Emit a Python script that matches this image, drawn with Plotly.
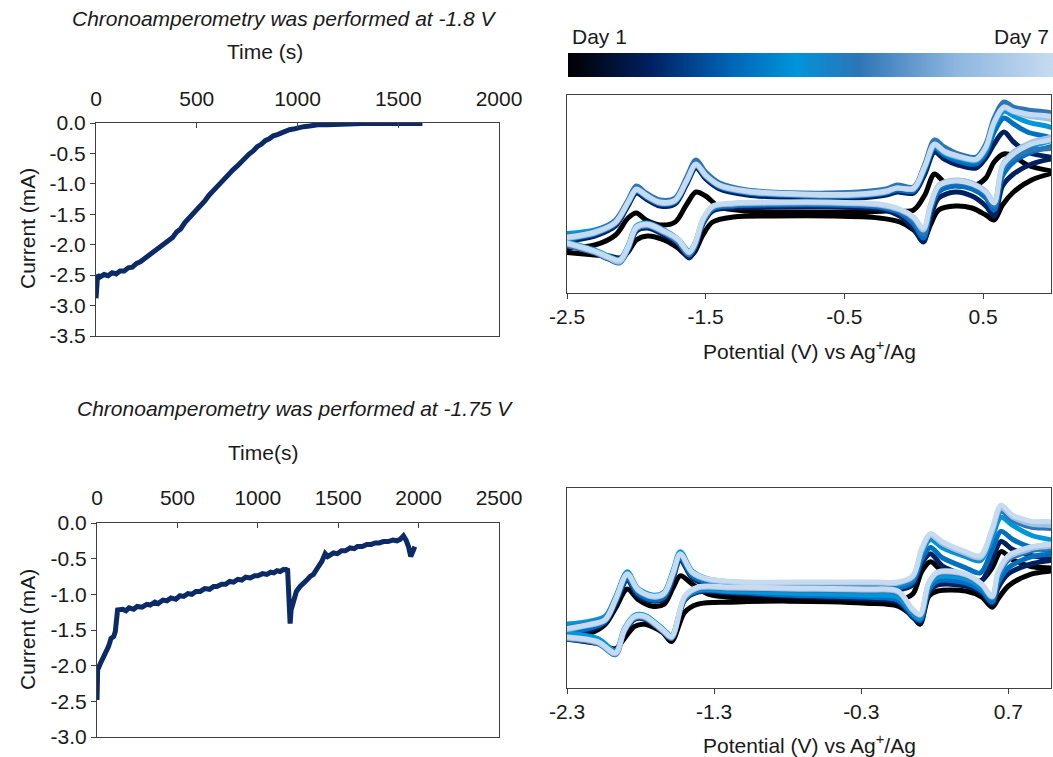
import plotly.graph_objects as go

W, H = 1053, 757
FONT = "Liberation Sans, Arial, sans-serif"
FS = 21
TXT = "#1a1a1a"
AXC = "#404040"
CA_COLOR = "#0B2A66"

# ---------------- chronoamperometry, -1.8 V ----------------
CA1_TIME = [0, 3, 8, 20, 40, 60, 80, 100, 120, 140, 160, 180, 200, 220, 240, 260, 280, 300,
            320, 340, 360, 380, 400, 420, 440, 460, 480, 500, 520, 540, 560, 580, 600, 620,
            640, 660, 680, 700, 720, 740, 760, 780, 800, 820, 840, 860, 880, 900, 920, 940,
            960, 980, 1000, 1030, 1060, 1100, 1150, 1200, 1260, 1320, 1400, 1480, 1560, 1620]
CA1_CURRENT = [-2.88, -2.58, -2.50, -2.53, -2.49, -2.51, -2.46, -2.48, -2.43, -2.43, -2.38, -2.37,
               -2.31, -2.28, -2.23, -2.19, -2.14, -2.10, -2.05, -1.99, -1.93, -1.88, -1.79, -1.74,
               -1.64, -1.57, -1.49, -1.43, -1.35, -1.28, -1.19, -1.13, -1.05, -0.98, -0.90, -0.84,
               -0.77, -0.71, -0.64, -0.58, -0.51, -0.46, -0.39, -0.35, -0.29, -0.26, -0.21, -0.19,
               -0.16, -0.13, -0.11, -0.10, -0.08, -0.06, -0.05, -0.03, -0.03, -0.02, -0.01, -0.01,
               -0.01, -0.01, -0.01, -0.01]

# ---------------- chronoamperometry, -1.75 V ----------------
CA2_TIME = [0, 4, 21, 41, 60, 72, 87, 104, 114, 120, 128, 160, 180, 200, 228, 250, 280, 310,
            331, 360, 380, 410, 435, 460, 490, 515, 539, 565, 590, 615, 642, 670, 700, 725,
            746, 775, 800, 825, 849, 875, 900, 925, 953, 980, 1000, 1030, 1056, 1080, 1100,
            1120, 1139, 1160, 1176, 1185, 1193, 1201, 1207, 1222, 1240, 1263, 1285, 1305, 1325,
            1346, 1377, 1398, 1419, 1435, 1450, 1471, 1495, 1520, 1545, 1574, 1600, 1620, 1650,
            1678, 1705, 1730, 1755, 1781, 1810, 1840, 1865, 1885, 1906, 1922, 1937, 1951, 1968,
            1976]
CA2_CURRENT = [-2.48, -2.06, -1.97, -1.88, -1.82, -1.73, -1.62, -1.59, -1.52, -1.27, -1.22,
               -1.21, -1.23, -1.19, -1.21, -1.17, -1.18, -1.14, -1.15, -1.11, -1.13, -1.08, -1.09,
               -1.05, -1.07, -1.02, -1.03, -0.99, -1.00, -0.96, -0.96, -0.92, -0.93, -0.89, -0.89,
               -0.86, -0.86, -0.82, -0.83, -0.79, -0.80, -0.76, -0.77, -0.74, -0.74, -0.71, -0.72,
               -0.69, -0.70, -0.67, -0.68, -0.65, -0.66, -0.64,
               -1.03, -1.41, -1.22, -1.08, -0.96, -0.89, -0.83, -0.80, -0.75, -0.72, -0.61, -0.54,
               -0.43, -0.47, -0.45, -0.42, -0.43, -0.39, -0.39, -0.35, -0.36, -0.33, -0.33, -0.30,
               -0.30, -0.28, -0.28, -0.26, -0.26, -0.24, -0.25, -0.23, -0.18, -0.24, -0.33, -0.47,
               -0.38, -0.33]

CA1_TICKS_X = [0, 500, 1000, 1500, 2000]
CA1_TICKS_Y = [0.0, -0.5, -1.0, -1.5, -2.0, -2.5, -3.0, -3.5]
CA1_LABELS_Y = ["0.0", "-0.5", "-1.0", "-1.5", "-2.0", "-2.5", "-3.0", "-3.5"]
CA2_TICKS_X = [0, 500, 1000, 1500, 2000, 2500]
CA2_TICKS_Y = [0.0, -0.5, -1.0, -1.5, -2.0, -2.5, -3.0]
CA2_LABELS_Y = ["0.0", "-0.5", "-1.0", "-1.5", "-2.0", "-2.5", "-3.0"]

# ---------------- cyclic voltammograms, days 1-7 ----------------
DAYS = ["Day 1", "Day 2", "Day 3", "Day 4", "Day 5", "Day 6", "Day 7"]
DAY_COLORS = ["#000000", "#002060", "#0070C0", "#0096DA", "#2E75B6", "#9DC3E6", "#C6DBF0"]

# upper CV (after -1.8 V electrolysis): forward / reverse sweeps, current in a.u.
CVA_E_FWD = [-2.55, -2.30, -2.15, -2.06, -2.00, -1.93, -1.83, -1.72, -1.64, -1.57, -1.50, -1.40,
             -1.20, -0.80, -0.40, -0.20, -0.12, 0.00, 0.08, 0.15, 0.22, 0.32, 0.45, 0.52, 0.58,
             0.65, 0.72, 0.82, 1.03]
CVA_E_REV = [1.03, 0.85, 0.72, 0.64, 0.58, 0.52, 0.42, 0.30, 0.18, 0.12, 0.07, 0.00, -0.10, -0.25,
             -0.60, -1.00, -1.30, -1.45, -1.52, -1.58, -1.62, -1.70, -1.80, -1.92, -2.00, -2.06,
             -2.12, -2.20, -2.30, -2.55]
CVA_FWD_D1 = [-54, -51, -41, -24, -19, -26, -31, -28, -11, 2, -2, -13, -17, -18, -18, -17, -17, -16, -1, 20, 12, 8, 9, 16, 32, 40, 38, 29, 22]
CVA_REV_D1 = [22, 14, 2, -11, -26, -21, -14, -12, -16, -31, -46, -36, -28, -24, -22, -22, -23, -28, -41, -58, -63, -54, -46, -42, -46, -58, -64, -62, -61, -58]
CVA_FWD_D2 = [-48, -42, -32, -12, 1, -5, -12, -10, 9, 26, 15, 5, -1, -4, -4, -1, 2, 1, 20, 42, 35, 29, 26, 36, 50, 62, 52, 42, 36]
CVA_REV_D2 = [36, 30, 20, 8, -22, -12, -2, 2, -4, -24, -48, -35, -22, -15, -13, -13, -14, -17, -30, -56, -64, -50, -41, -34, -37, -57, -68, -65, -59, -50]
CVA_FWD_D3 = [-46, -40, -30, -10, 3, -3, -10, -8, 11, 28, 17, 7, 1, -2, -2, 1, 4, 3, 24, 46, 39, 33, 30, 41, 62, 76, 70, 62, 54]
CVA_REV_D3 = [50, 42, 32, 18, -16, -4, 5, 8, 2, -17, -44, -30, -19, -13, -11, -11, -12, -15, -28, -53, -61, -48, -39, -32, -35, -55, -67, -64, -58, -49]
CVA_FWD_D4 = [-40, -36, -27, -8, 5, -1, -7, -6, 13, 30, 19, 9, 3, 0, 0, 3, 6, 5, 26, 48, 41, 36, 33, 44, 68, 83, 78, 72, 64]
CVA_REV_D4 = [56, 48, 38, 24, -12, 2, 11, 13, 6, -14, -40, -26, -16, -11, -9, -9, -10, -13, -26, -50, -57, -45, -36, -29, -32, -52, -65, -62, -56, -46]
CVA_FWD_D5 = [-43, -37, -26, -6, 8, 1, -6, -4, 16, 34, 22, 11, 4, 1, 2, 5, 9, 7, 30, 54, 47, 40, 37, 50, 76, 92, 87, 84, 78]
CVA_REV_D5 = [48, 44, 36, 25, -12, 0, 9, 12, 6, -14, -40, -27, -17, -12, -10, -10, -11, -14, -28, -53, -61, -48, -39, -32, -35, -55, -69, -65, -59, -50]
CVA_FWD_D6 = [-45, -39, -29, -9, 4, -2, -9, -7, 12, 29, 18, 8, 2, -1, -1, 2, 6, 5, 27, 49, 42, 37, 34, 46, 71, 86, 82, 78, 72]
CVA_REV_D6 = [60, 52, 42, 29, -8, 3, 11, 14, 9, -11, -36, -24, -16, -11, -9, -9, -10, -13, -26, -51, -59, -46, -38, -31, -34, -54, -68, -64, -58, -48]
CVA_FWD_D7 = [-44, -38, -28, -8, 5, -1, -8, -6, 13, 30, 19, 9, 3, 0, 0, 3, 6, 6, 28, 50, 43, 38, 35, 47, 72, 87, 83, 80, 75]
CVA_REV_D7 = [57, 50, 40, 28, -9, 2, 10, 13, 8, -12, -34, -23, -15, -10, -8, -8, -9, -12, -25, -50, -58, -45, -37, -30, -33, -53, -66, -63, -57, -47]

# lower CV (after -1.75 V electrolysis)
CVB_E_FWD = [-2.34, -2.15, -2.04, -1.97, -1.89, -1.82, -1.72, -1.64, -1.58, -1.53, -1.45, -1.34,
             -1.07, -0.60, -0.20, -0.05, 0.05, 0.11, 0.17, 0.25, 0.41, 0.51, 0.59, 0.65, 0.73,
             0.86, 1.03]
CVB_E_REV = [1.03, 0.86, 0.70, 0.63, 0.59, 0.52, 0.41, 0.22, 0.16, 0.10, 0.05, -0.05, -0.27,
             -0.80, -1.18, -1.41, -1.50, -1.59, -1.65, -1.77, -1.84, -1.91, -1.97, -2.09, -2.34]
CVB_FWD_D1 = [-48, -45, -36, -20, -1, -11, -18, -16, 0, 12, 4, -6, -10, -12, -13, -12, -6, 16, 26, 17, 11, 7, 20, 36, 28, 21, 19]
CVB_REV_D1 = [18, 14, 2, -11, -19, -9, -3, -3, -8, -36, -28, -18, -15, -13, -14, -16, -24, -53, -44, -36, -38, -50, -60, -55, -50]
CVB_FWD_D2 = [-46, -42, -34, -16, 8, -8, -13, -11, 9, 28, 10, 3, 0, -1, -2, -2, 3, 24, 34, 22, 12, 6, 28, 46, 38, 32, 28]
CVB_REV_D2 = [28, 24, 14, 0, -16, -5, 2, 3, -4, -34, -29, -14, -11, -8, -5, -4, -12, -50, -43, -31, -31, -44, -64, -53, -47]
CVB_FWD_D3 = [-44, -40, -33, -14, 10, -5, -12, -9, 11, 30, 12, 5, 2, 1, 0, 0, 6, 28, 40, 30, 20, 15, 38, 56, 48, 40, 36]
CVB_REV_D3 = [35, 31, 20, 5, -14, -3, 5, 7, -2, -32, -27, -12, -9, -7, -4, -3, -11, -49, -42, -29, -29, -42, -63, -52, -46]
CVB_FWD_D4 = [-36, -33, -28, -9, 16, 0, -7, -4, 17, 36, 17, 9, 5, 4, 3, 3, 9, 34, 48, 40, 31, 27, 50, 70, 62, 52, 46]
CVB_REV_D4 = [45, 40, 28, 10, -10, 0, 9, 11, 2, -30, -25, -9, -7, -5, -3, -2, -10, -47, -40, -27, -27, -40, -62, -50, -44]
CVB_FWD_D5 = [-40, -35, -30, -10, 14, -2, -9, -5, 15, 33, 15, 8, 5, 4, 4, 4, 10, 36, 51, 43, 33, 29, 54, 76, 67, 60, 57]
CVB_REV_D5 = [42, 37, 28, 12, -10, 2, 12, 14, 4, -28, -23, -5, -3, -2, -1, -1, -10, -50, -43, -30, -30, -43, -66, -55, -50]
CVB_FWD_D6 = [-42, -37, -32, -12, 13, -2, -9, -6, 14, 33, 15, 8, 5, 5, 5, 5, 11, 37, 52, 44, 34, 30, 56, 79, 70, 63, 60]
CVB_REV_D6 = [44, 39, 30, 14, -9, 3, 13, 15, 5, -27, -22, -4, -2, -1, 0, 0, -9, -49, -42, -29, -29, -42, -65, -54, -49]
CVB_FWD_D7 = [-41, -36, -31, -11, 14, -1, -8, -5, 15, 34, 16, 9, 6, 6, 6, 6, 12, 39, 54, 46, 36, 32, 59, 82, 72, 66, 64]
CVB_REV_D7 = [46, 41, 32, 16, -8, 4, 14, 16, 6, -26, -21, -3, -1, 0, 1, 1, -8, -48, -41, -28, -28, -41, -64, -53, -48]

CVA_TICKS = [-2.5, -1.5, -0.5, 0.5]
CVA_LABELS = ["-2.5", "-1.5", "-0.5", "0.5"]
CVB_TICKS = [-2.3, -1.3, -0.3, 0.7]
CVB_LABELS = ["-2.3", "-1.3", "-0.3", "0.7"]

CVA_SWEEPS = [(CVA_FWD_D1, CVA_REV_D1), (CVA_FWD_D2, CVA_REV_D2), (CVA_FWD_D3, CVA_REV_D3),
              (CVA_FWD_D4, CVA_REV_D4), (CVA_FWD_D5, CVA_REV_D5), (CVA_FWD_D6, CVA_REV_D6),
              (CVA_FWD_D7, CVA_REV_D7)]
CVB_SWEEPS = [(CVB_FWD_D1, CVB_REV_D1), (CVB_FWD_D2, CVB_REV_D2), (CVB_FWD_D3, CVB_REV_D3),
              (CVB_FWD_D4, CVB_REV_D4), (CVB_FWD_D5, CVB_REV_D5), (CVB_FWD_D6, CVB_REV_D6),
              (CVB_FWD_D7, CVB_REV_D7)]


def dom_x(left, right):
    return [left / W, right / W]


def dom_y(top, bottom):
    return [1 - bottom / H, 1 - top / H]


fig = go.Figure()

# chronoamperometry traces
fig.add_trace(go.Scatter(x=CA1_TIME, y=CA1_CURRENT, mode="lines", xaxis="x", yaxis="y",
                         line=dict(color=CA_COLOR, width=5), showlegend=False, hoverinfo="skip"))
fig.add_trace(go.Scatter(x=CA2_TIME, y=CA2_CURRENT, mode="lines", xaxis="x2", yaxis="y2",
                         line=dict(color=CA_COLOR, width=5), showlegend=False, hoverinfo="skip"))

# CV loops, Day 1 underneath, Day 7 on top
for sweeps, e_fwd, e_rev, xa, ya in [(CVA_SWEEPS, CVA_E_FWD, CVA_E_REV, "x3", "y3"),
                                     (CVB_SWEEPS, CVB_E_FWD, CVB_E_REV, "x4", "y4")]:
    for day, color, (fwd, rev) in zip(DAYS, DAY_COLORS, sweeps):
        fig.add_trace(go.Scatter(x=e_fwd + e_rev, y=fwd + rev, mode="lines", name=day,
                                 xaxis=xa, yaxis=ya, showlegend=False, hoverinfo="skip",
                                 line=dict(color=color, width=5, shape="spline", smoothing=0.9)))

# day colour scale
fig.add_trace(go.Scatter(
    x=[None, None], y=[None, None], mode="markers", xaxis="x3", yaxis="y3", showlegend=False,
    marker=dict(color=[1, 7], cmin=1, cmax=7, showscale=True,
                colorscale=[[0.0, "#000000"], [0.17, "#002060"], [0.34, "#0066B8"],
                            [0.47, "#0094DA"], [0.6, "#2E75B6"], [0.8, "#8DB6E0"],
                            [1.0, "#C6DBF0"]],
                colorbar=dict(orientation="h", x=568 / W, xanchor="left", y=1 - 53 / H,
                              yanchor="top", len=(W - 568) / W, lenmode="fraction",
                              thickness=24, thicknessmode="pixels", outlinewidth=0,
                              showticklabels=False, ticks="", xpad=0, ypad=0))))

tickfont = dict(family=FONT, size=FS, color=TXT)
frame = dict(showline=True, linecolor=AXC, linewidth=1, mirror=True, showgrid=False,
             zeroline=False, tickfont=tickfont, tickcolor=AXC, ticklen=5)

fig.update_layout(
    width=W, height=H, margin=dict(l=0, r=0, t=0, b=0, autoexpand=False),
    paper_bgcolor="white", plot_bgcolor="white", showlegend=False,
    xaxis=dict(domain=dom_x(96, 499), anchor="y", side="top", range=[0, 2000],
               tickvals=CA1_TICKS_X, ticks="inside", ticklabelstandoff=8, **frame),
    yaxis=dict(domain=dom_y(123, 336), anchor="x", range=[-3.5, 0], tickvals=CA1_TICKS_Y,
               ticktext=CA1_LABELS_Y, ticks="outside", **frame),
    xaxis2=dict(domain=dom_x(97, 499), anchor="y2", side="top", range=[0, 2500],
                tickvals=CA2_TICKS_X, ticks="inside", ticklabelstandoff=9, **frame),
    yaxis2=dict(domain=dom_y(523, 737), anchor="x2", range=[-3.0, 0], tickvals=CA2_TICKS_Y,
                ticktext=CA2_LABELS_Y, ticks="outside", **frame),
    xaxis3=dict(domain=dom_x(567, 1051), anchor="y3", range=[-2.5, 0.99], tickvals=CVA_TICKS,
                ticktext=CVA_LABELS, ticks="outside", **frame),
    yaxis3=dict(domain=dom_y(95, 293), anchor="x3", range=[-99, 99], showticklabels=False,
                ticks="", showline=True, linecolor=AXC, linewidth=1, mirror=True,
                showgrid=False, zeroline=False),
    xaxis4=dict(domain=dom_x(567, 1051), anchor="y4", range=[-2.3, 0.99], tickvals=CVB_TICKS,
                ticktext=CVB_LABELS, ticks="outside", **frame),
    yaxis4=dict(domain=dom_y(488, 688), anchor="x4", range=[-99, 99], showticklabels=False,
                ticks="", showline=True, linecolor=AXC, linewidth=1, mirror=True,
                showgrid=False, zeroline=False),
)


def label(text, x, y, angle=0, italic=False, xanchor="center"):
    fig.add_annotation(text=f"<i>{text}</i>" if italic else text, x=x / W, y=1 - y / H,
                       xref="paper", yref="paper", showarrow=False, textangle=angle,
                       xanchor=xanchor, yanchor="middle",
                       font=dict(family=FONT, size=FS, color=TXT))


label("Chronoamperometry was performed at -1.8 V", 284, 19, italic=True)
label("Time (s)", 265, 52)
label("Current (mA)", 27, 229, angle=-90)
label("Chronoamperometry was performed at -1.75 V", 295, 408, italic=True)
label("Time(s)", 263, 453)
label("Current (mA)", 27, 630, angle=-90)
label("Potential (V) vs Ag<sup>+</sup>/Ag", 809, 350)
label("Potential (V) vs Ag<sup>+</sup>/Ag", 809, 744)
label("Day 1", 570, 36, xanchor="left")
label("Day 7", 1051, 36, xanchor="right")

fig.write_html("out.html")
